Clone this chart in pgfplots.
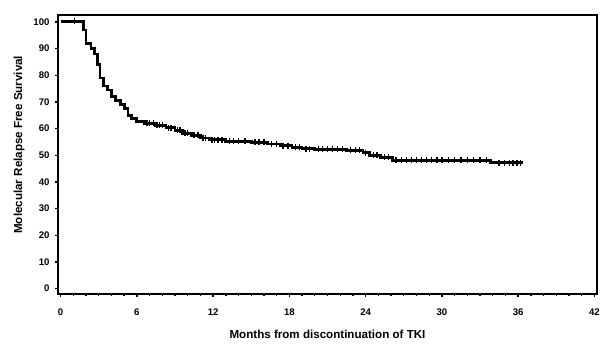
\documentclass[border=0pt]{standalone}
\usepackage{pgfplots}
\pgfplotsset{compat=1.18}
\usepackage{fontspec}
\setmainfont{Liberation Sans}
\begin{document}
\begin{tikzpicture}
\useasboundingbox (-58pt,-54pt) rectangle (554pt,294pt);
\begin{axis}[
  at={(0,0)}, anchor=south west,
  scale only axis,
  width=539pt, height=279pt,
  xmin=-0.2, xmax=42.2,
  ymin=-2, ymax=102.6,
  xtick={0,6,...,42},
  ytick={0,10,...,100},
  minor x tick num=5,
  xtick pos=bottom, ytick pos=left,
  tick align=outside,
  major tick length=3pt,
  minor tick length=2pt,
  every tick/.style={black, line width=1.4pt},
  axis line style={line width=2.6pt},
  xticklabel style={font=\fontsize{9.6}{10}\selectfont\bfseries, yshift=-8pt},
  yticklabel style={font=\fontsize{9.6}{10}\selectfont\bfseries, xshift=-2pt},
  /pgf/number format/assume math mode=true,
  xlabel={\textbf{Months from discontinuation of TKI}},
  ylabel={\textbf{Molecular Relapse Free Survival}},
  xlabel style={font=\fontsize{11.6}{13}\selectfont, yshift=-8pt},
  ylabel style={font=\fontsize{11.6}{13}\selectfont, at={(ticklabel cs:0.535)}, yshift=2pt},
  clip=false,
]
\addplot[const plot, black, line width=2.8pt] coordinates {
(0,100.3) (1.8,97) (2.0,92) (2.4,90) (2.7,88) (2.9,84) (3.1,79) (3.4,76)
(3.7,74.5) (4.0,72) (4.3,70.5) (4.7,69) (5.0,67.5) (5.3,65) (5.6,63.8)
(6.0,62.8) (6.6,62) (7.5,61.3) (8.3,60.3) (9.0,59.3) (9.6,58.3) (10.3,57.5)
(11.0,56.5) (11.7,55.8) (13.0,55.3) (15.0,54.8) (16.3,54.2) (17.3,53.6)
(18.2,53.0) (19.0,52.5) (20.0,52.2) (22.5,51.8) (23.8,51) (24.3,50)
(25.2,49.2) (26.1,48.2) (33.8,47.2) (36.4,47.2)
};
\addplot[only marks, mark=|, mark size=3pt, black, line width=1.4pt] coordinates {
(1.1,100.3) (6.8,62) (7.0,62) (7.3,62) (7.6,61.3) (7.8,61.3) (8.0,61.3)
(8.5,60.3) (8.7,60.3) (9.2,59.3) (9.4,59.3) (9.8,58.3) (10.0,58.3)
(10.5,57.5) (10.8,57.5) (11.2,56.5) (11.4,56.5) (11.9,55.8) (12.1,55.8)
(12.4,55.8) (12.7,55.8) (13.3,55.3) (13.6,55.3) (14.0,55.3) (14.5,55.3)
(15.3,54.8) (15.6,54.8) (16.0,54.8) (16.6,54.2) (17.0,54.2) (17.5,53.6)
(17.9,53.6) (18.5,53.0) (18.8,53.0) (19.3,52.5) (19.6,52.5) (20.3,52.2)
(20.6,52.2) (21.0,52.2) (21.4,52.2) (21.8,52.2) (22.2,52.2) (22.8,51.8)
(23.2,51.8) (23.5,51.8) (24.0,51) (24.6,50) (24.9,50) (25.5,49.2)
(25.8,49.2) (26.4,48.2) (26.8,48.2) (27.2,48.2) (27.6,48.2) (28.0,48.2)
(28.4,48.2) (28.8,48.2) (29.2,48.2) (29.6,48.2) (30.0,48.2) (30.5,48.2)
(31.0,48.2) (31.5,48.2) (32.0,48.2) (32.5,48.2) (33.0,48.2) (33.5,48.2)
(34.5,47.2) (34.9,47.2) (35.3,47.2) (35.6,47.2) (35.9,47.2) (36.2,47.2)
};
\end{axis}
\end{tikzpicture}
\end{document}
